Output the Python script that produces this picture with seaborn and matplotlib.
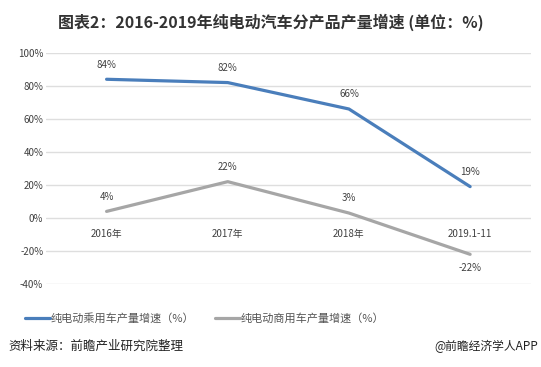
import pandas as pd
import seaborn as sns
import matplotlib.pyplot as plt
from matplotlib.ticker import FuncFormatter

categories = ["2016年", "2017年", "2018年", "2019.1-11"]
passenger = [84, 82, 66, 19]
commercial = [4, 22, 3, -22]
series_names = ["纯电动乘用车产量增速（%）", "纯电动商用车产量增速（%）"]

sns.set_theme(style="white")
plt.rcParams['font.family'] = ['Noto Sans CJK SC', 'DejaVu Sans']
plt.rcParams['axes.unicode_minus'] = False

df = pd.DataFrame({
    "year": categories * 2,
    "value": passenger + commercial,
    "series": [series_names[0]] * 4 + [series_names[1]] * 4,
})

fig = plt.figure(figsize=(5.41, 3.67), dpi=100)
ax = fig.add_axes([0.085, 0.226, 0.896, 0.63])

palette = {series_names[0]: "#4a7ebb", series_names[1]: "#a6a6a6"}
sns.lineplot(data=df, x="year", y="value", hue="series", palette=palette,
             linewidth=2.3, ax=ax, sort=False, legend=False)

ax.set_xlim(-0.5, 3.5)
ax.set_ylim(-40, 100)
ax.set_yticks(range(-40, 101, 20))
ax.yaxis.set_major_formatter(FuncFormatter(lambda v, p: f"{int(v)}%"))
ax.grid(axis="y", color="#dedede", linewidth=1)
ax.set_axisbelow(True)
for s in ax.spines.values():
    s.set_visible(False)
ax.set_xlabel("")
ax.set_ylabel("")
ax.tick_params(axis="y", labelsize=7, colors="#404040", pad=2, length=0)
ax.tick_params(axis="x", length=0, labelsize=7, colors="#404040")
ax.set_xticks(range(4))
ax.set_xticklabels([])
# category labels sit just below the 0% line
for i, c in enumerate(categories):
    ax.annotate(c, (i, 0), xytext=(0, -8), textcoords="offset points",
                ha="center", va="top", fontsize=7, color="#404040")

for i, v in enumerate(passenger):
    ax.annotate(f"{v}%", (i, v), xytext=(0, 7), textcoords="offset points",
                ha="center", va="bottom", fontsize=7, color="#404040")
for i, v in enumerate(commercial):
    off = -6 if v < 0 else 7
    ax.annotate(f"{v}%", (i, v), xytext=(0, off), textcoords="offset points",
                ha="center", va="top" if v < 0 else "bottom", fontsize=7, color="#404040")

fig.text(0.5, 0.94, "图表2：2016-2019年纯电动汽车分产品产量增速 (单位：%)",
         ha="center", va="center", fontsize=11.5, fontweight="bold", color="#333333")

# legend
lx = [(25, 50), (215, 240)]
for (x0, x1), name, col in zip(lx, series_names, [palette[series_names[0]], palette[series_names[1]]]):
    fig.add_artist(plt.Line2D([x0 / 541, x1 / 541], [1 - 318 / 367] * 2, color=col, linewidth=2.3))
    fig.text((x1 + 1) / 541, 1 - 318 / 367, name, ha="left", va="center", fontsize=8, color="#555555")

fig.text(8 / 541, 1 - 346 / 367, "资料来源：前瞻产业研究院整理", ha="left", va="center",
         fontsize=9, color="#222222")
fig.text(538 / 541, 1 - 346 / 367, "@前瞻经济学人APP", ha="right", va="center",
         fontsize=8.5, color="#222222")

fig.savefig("out.png", dpi=100)
